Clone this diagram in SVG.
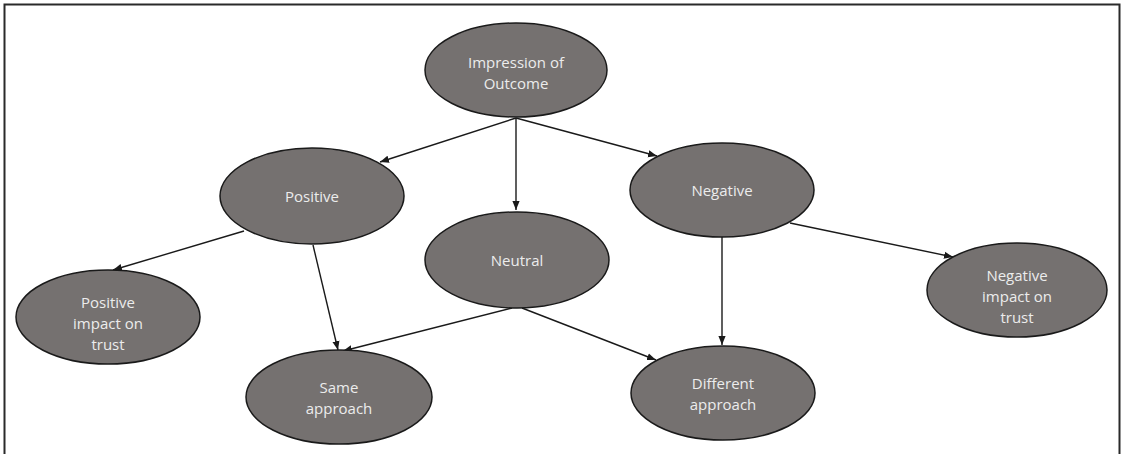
<svg xmlns="http://www.w3.org/2000/svg" width="1122" height="454" viewBox="0 0 1122 454">
  <style>
    .node ellipse { fill: #757170; stroke: #1a1a1a; stroke-width: 1.5; }
    .node text { fill: #ececec; font-family: "Open Sans", "Noto Sans", "DejaVu Sans", sans-serif; font-size: 15px; text-anchor: middle; }
    .edge { stroke: #1a1a1a; stroke-width: 1.4; fill: none; marker-end: url(#arrow); }
  </style>
  <defs>
    <marker id="arrow" viewBox="0 0 10 10" refX="10" refY="5" markerWidth="9" markerHeight="9" markerUnits="userSpaceOnUse" orient="auto">
      <path d="M0,1 L10,5 L0,9 Z" fill="#1a1a1a"/>
    </marker>
  </defs>
  <rect width="1122" height="454" fill="#ffffff"/>
  <!-- outer frame, open at the bottom -->
  <path d="M4.5,454 V4.5 H1119.5 V454" fill="none" stroke="#2a2a2a" stroke-width="2"/>

  <g id="connectors">
    <line class="edge" x1="516" y1="118" x2="380" y2="162"/>
    <line class="edge" x1="516" y1="118" x2="516" y2="210"/>
    <line class="edge" x1="516" y1="118" x2="657" y2="156"/>
    <line class="edge" x1="244" y1="231" x2="113" y2="270"/>
    <line class="edge" x1="313" y1="245" x2="338" y2="350"/>
    <line class="edge" x1="512" y1="308" x2="343" y2="351"/>
    <line class="edge" x1="522" y1="308" x2="656" y2="360"/>
    <line class="edge" x1="722" y1="237" x2="722" y2="345"/>
    <line class="edge" x1="790" y1="223" x2="953" y2="257"/>
  </g>

  <g id="impression" class="node">
    <ellipse cx="516" cy="70" rx="91" ry="47"/>
    <text x="516" y="68">Impression of</text>
    <text x="516" y="89">Outcome</text>
  </g>
  <g id="positive" class="node">
    <ellipse cx="312" cy="196" rx="92" ry="48"/>
    <text x="312" y="202">Positive</text>
  </g>
  <g id="negative" class="node">
    <ellipse cx="722" cy="190" rx="92" ry="47"/>
    <text x="722" y="196">Negative</text>
  </g>
  <g id="neutral" class="node">
    <ellipse cx="517" cy="260" rx="92" ry="48"/>
    <text x="517" y="266">Neutral</text>
  </g>
  <g id="positive-impact" class="node">
    <ellipse cx="108" cy="317" rx="92" ry="47"/>
    <text x="108" y="308">Positive</text>
    <text x="108" y="329">impact on</text>
    <text x="108" y="350">trust</text>
  </g>
  <g id="negative-impact" class="node">
    <ellipse cx="1017" cy="290" rx="90" ry="47"/>
    <text x="1017" y="281">Negative</text>
    <text x="1017" y="302">impact on</text>
    <text x="1017" y="323">trust</text>
  </g>
  <g id="same-approach" class="node">
    <ellipse cx="339" cy="397" rx="93" ry="47"/>
    <text x="339" y="393">Same</text>
    <text x="339" y="414">approach</text>
  </g>
  <g id="different-approach" class="node">
    <ellipse cx="723" cy="393" rx="92" ry="47"/>
    <text x="723" y="389">Different</text>
    <text x="723" y="410">approach</text>
  </g>
</svg>
